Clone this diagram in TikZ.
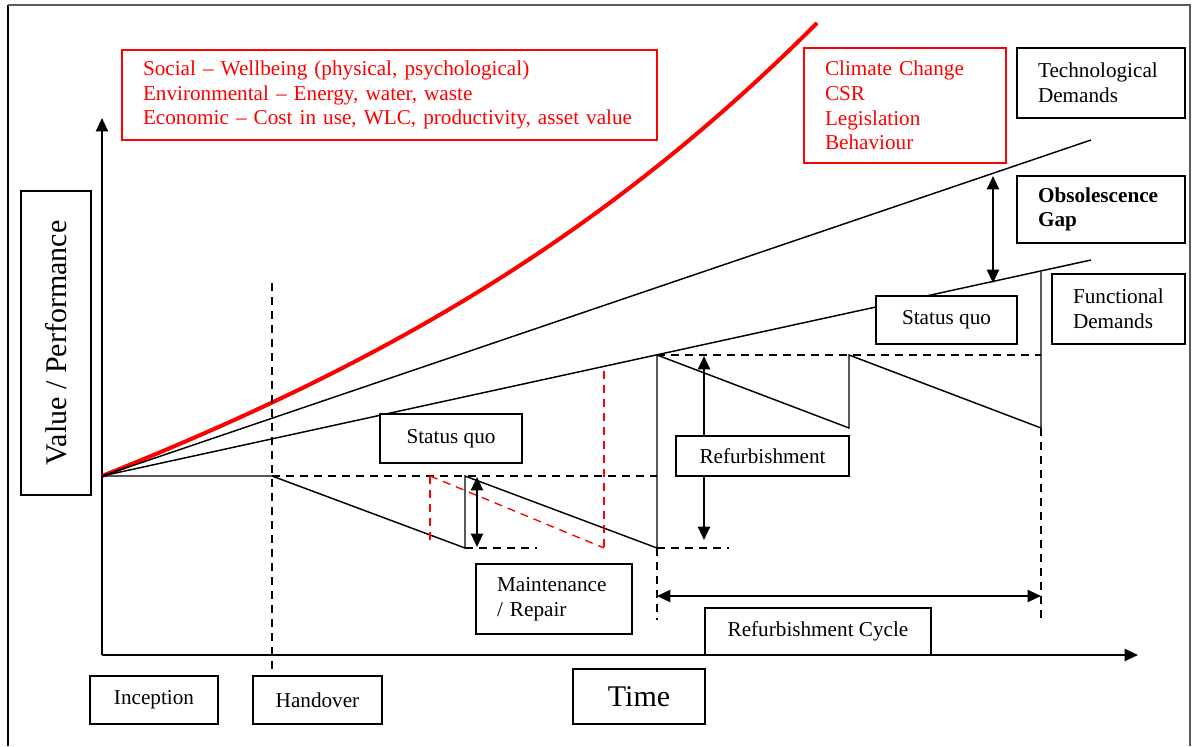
\documentclass[tikz,border=0pt]{standalone}
\usepackage{fontspec}
\setmainfont{Liberation Serif}
\usetikzlibrary{arrows.meta}
\definecolor{penred}{RGB}{255, 0, 0}
\definecolor{framegray}{RGB}{90, 90, 90}

\begin{document}
\begin{tikzpicture}[x=0.75pt, y=-0.75pt,
    every node/.style={font={\fontsize{15.9}{18.4}\selectfont}},
    lbl/.style={draw, line width=1.2pt, fill=white, inner sep=0pt, align=center},
    note/.style={lbl, inner xsep=15.75pt, align=left},
    trend/.style={line width=1.1pt},
    guide/.style={line width=1pt, dash pattern=on 6pt off 4.5pt},
    redguide/.style={guide, penred},
    axis/.style={line width=1.6pt, -{Triangle[length=10pt, width=9pt]}},
    dbl/.style={line width=1.6pt, {Triangle[length=10pt, width=9pt]}-{Triangle[length=10pt, width=9pt]}}]
    \useasboundingbox (0,0) rectangle (1192,746);

    % Frame
    \coordinate (fbl) at (8,746);
    \coordinate (ftl) at (8,5);
    \coordinate (ftr) at (1190,5);
    \coordinate (fbr) at (1190,746);
    \draw[line width=1.2pt] (fbl) -- (ftl);
    \draw[line width=1.2pt, framegray] (ftl) -- (ftr) -- (fbr);

    % Axes
    \coordinate (corner) at (102,655);
    \coordinate (ytop) at (102,118);
    \coordinate (xend) at (1138,655);
    \draw[axis] (corner) -- (ytop);
    \draw[axis] (corner) -- (xend);

    % Demand lines
    \coordinate (o) at (102,476);
    \coordinate (techend) at (1091,140);
    \coordinate (funcend) at (1091,260);
    \coordinate (redend) at (817,23);
    \draw[penred, line width=3pt] (o) .. controls (380,365) and (600,240) .. (redend);
    \draw[trend] (o) -- (techend);
    \draw[trend] (o) -- (funcend);

    % Value profile
    \coordinate (hand) at (272,476);
    \coordinate (m1) at (465,548);
    \coordinate (m1t) at (465,476);
    \coordinate (m2) at (657,548);
    \coordinate (r1) at (657,355);
    \coordinate (r1b) at (849,428);
    \coordinate (r2) at (849,355);
    \coordinate (r2b) at (1041,428);
    \coordinate (r2t) at (1041,272);
    \draw[trend] (o) -- (hand) -- (m1) -- (m1t) -- (m2) -- (r1) -- (r1b) -- (r2) -- (r2b) -- (r2t);

    % Guides
    \coordinate (hdtop) at (272,283);
    \coordinate (hdbot) at (272,676);
    \coordinate (baseend) at (657,476);
    \coordinate (m1end) at (537,548);
    \coordinate (m2end) at (729,548);
    \coordinate (topend) at (1041,355);
    \coordinate (m2low) at (657,620);
    \coordinate (r2low) at (1041,620);
    \draw[guide] (hdtop) -- (hdbot);
    \draw[guide] (hand) -- (baseend);
    \draw[guide] (m1) -- (m1end);
    \draw[guide] (m2) -- (m2end);
    \draw[guide] (r1) -- (topend);
    \draw[guide] (m2) -- (m2low);
    \draw[guide] (r2b) -- (r2low);

    % Delayed maintenance
    \coordinate (ra) at (430,476);
    \coordinate (rab) at (430,540);
    \coordinate (rb) at (604,548);
    \coordinate (rbt) at (604,371);
    \draw[redguide] (ra) -- (rab);
    \draw[redguide] (ra) -- (rb);
    \draw[redguide] (rbt) -- (rb);

    % Arrows
    \coordinate (mtop) at (477,477);
    \coordinate (mbot) at (477,547);
    \coordinate (rtop) at (704,356);
    \coordinate (rbot) at (704,540);
    \coordinate (cl) at (657,596);
    \coordinate (cr) at (1041,596);
    \coordinate (gtop) at (993,176);
    \coordinate (gbot) at (993,283);
    \draw[dbl] (mtop) -- (mbot);
    \draw[dbl] (rtop) -- (rbot);
    \draw[dbl] (cl) -- (cr);
    \draw[dbl] (gtop) -- (gbot);

    % Drivers
    \node[note, draw=penred, text=penred, text width=369.75pt, minimum height=67.5pt] (drivers) at (389.5,95)
        {Social -- Wellbeing (physical, psychological)\\Environmental -- Energy, water, waste\\Economic -- Cost in use, WLC, productivity, asset value};
    \node[note, draw=penred, text=penred, text width=120pt, minimum height=86.25pt] (pressures) at (905,105.5)
        {Climate Change\\CSR\\Legislation\\Behaviour};

    % Right labels
    \node[note, text width=94.5pt, minimum height=52.5pt] (techdem) at (1101,83) {Technological\\Demands};
    \node[note, text width=94.5pt, minimum height=50.25pt, font={\fontsize{15.9}{18.4}\selectfont\bfseries}] (gap) at (1101,209.5) {Obsolescence\\Gap};
    \node[note, text width=68.25pt, minimum height=52.5pt] (funcdem) at (1118.5,309) {Functional\\Demands};

    % Profile labels
    \node[lbl, minimum width=105.75pt, minimum height=36pt] (quo2) at (946.5,320) {Status quo};
    \node[lbl, minimum width=106.5pt, minimum height=36.75pt] (quo1) at (451,438.5) {Status quo};
    \node[note, text width=85.5pt, minimum height=52.5pt] (maint) at (554,599) {Maintenance\\/ Repair};
    \node[lbl, minimum width=129.75pt, minimum height=30pt] (refurb) at (762.5,456) {Refurbishment};
    \node[lbl, minimum width=169.5pt, minimum height=35.25pt] (cycle) at (818,631.5) {Refurbishment Cycle};

    % Axis labels
    \node[lbl, minimum width=96pt, minimum height=36pt] (inception) at (154,700) {Inception};
    \node[lbl, minimum width=96.75pt, minimum height=36pt] (handover) at (317.5,700) {Handover};
    \node[lbl, minimum width=99pt, minimum height=41.25pt, font={\fontsize{22.5}{27}\selectfont}] (time) at (639,696.5) {Time};
    \node[lbl, rotate=90, minimum width=228pt, minimum height=52.5pt, font={\fontsize{22.5}{27}\selectfont}] (value) at (56,343) {Value / Performance};
\end{tikzpicture}
\end{document}
